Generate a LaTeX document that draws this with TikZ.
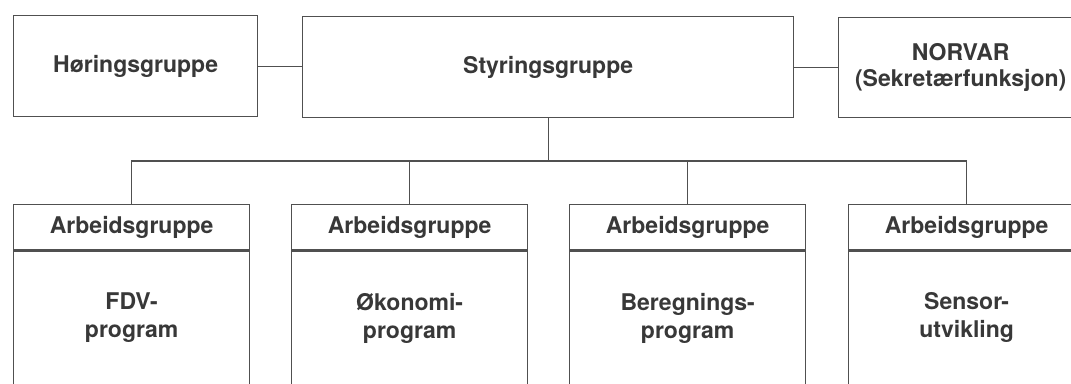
\documentclass[tikz,border=0pt]{standalone}
\usepackage{fontspec}
\setmainfont{TeX Gyre Heros}
\usetikzlibrary{positioning}
\definecolor{linegray}{HTML}{505050}
\definecolor{textgray}{HTML}{383838}
\tikzset{
  box/.style={draw=linegray, line width=1.3pt, text=textgray, align=center,
    inner sep=0pt, font=\fontsize{23}{28}\selectfont\bfseries},
  link/.style={draw=linegray, line width=1.3pt}
}
\begin{document}
\begin{tikzpicture}[x=1pt,y=-1pt]
  \clip (0,0) rectangle (1071,383);
  \fill[white] (0,0) rectangle (1071,383);

  % top row
  \node[box, minimum width=244, minimum height=101, anchor=north west]
    (hoering) at (13,15) {Høringsgruppe};
  \node[box, minimum width=491, minimum height=101, anchor=north west]
    (styring) at (302,16) {Styringsgruppe};
  \node[box, minimum width=244, minimum height=100, anchor=north west]
    (norvar) at (838,17) {NORVAR\\[-2pt](Sekretærfunksjon)};
  \draw[link] (hoering.east) -- (hoering.east -| styring.west);
  \draw[link] (norvar.west) -- (norvar.west -| styring.east);

  % working groups
  \foreach \name/\x/\txt in {fdv/13/{FDV-\\program},
                             oekonomi/291/{Økonomi-\\program},
                             beregning/569/{Beregnings-\\program},
                             sensor/848/{Sensor-\\utvikling}}{
    \node[box, minimum width=236, minimum height=45, anchor=north west]
      (\name-head) at (\x,204) {Arbeidsgruppe};
    \node[box, minimum width=236, minimum height=134, anchor=north]
      (\name) at (\name-head.south) {\txt};
  }

  \coordinate (fork) at (548,161);
  \draw[link] (styring.south) -- (styring.south |- fork);
  \draw[link] (fdv-head.north) -- (fdv-head.north |- fork)
    -- (sensor-head.north |- fork) -- (sensor-head.north);
  \foreach \n in {oekonomi,beregning}
    \draw[link] (\n-head.north) -- (\n-head.north |- fork);
\end{tikzpicture}
\end{document}
